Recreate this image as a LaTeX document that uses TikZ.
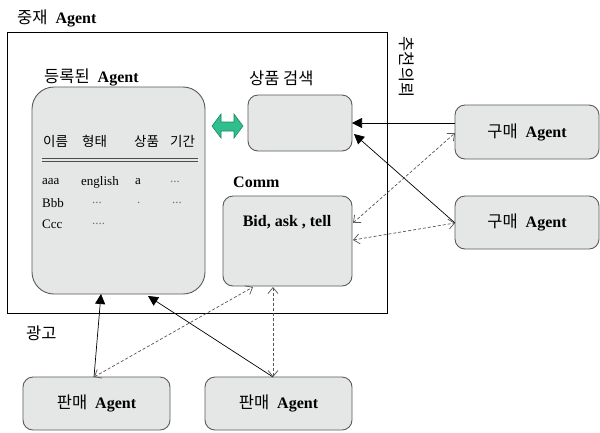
\documentclass[tikz,border=0pt]{standalone}
\usepackage{fontspec}
\setmainfont{Liberation Serif}
\newfontfamily\kr{Noto Sans CJK KR}
\usetikzlibrary{arrows.meta,calc}
\definecolor{boxfill}{HTML}{E4E7E6}
\definecolor{boxline}{HTML}{5A5A5A}
\definecolor{grn}{HTML}{2EBF8C}
\definecolor{grnd}{HTML}{1A8A60}
\definecolor{dsh}{HTML}{555555}
\newcommand\korlbl[1]{{\kr\fontsize{16.5bp}{19bp}\selectfont #1}}
\newcommand\kortbl[1]{{\kr\fontsize{13.5bp}{15bp}\selectfont #1}}
\newcommand\agt{\hspace{8bp}\textbf{Agent}}
\begin{document}
\begin{tikzpicture}[x=1bp,y=-1bp,
  rbox/.style={draw=boxline,fill=boxfill,line width=0.9bp,rounded corners=10bp},
  lbl/.style={anchor=west,inner sep=0pt,font=\fontsize{16bp}{19bp}\selectfont},
  tbl/.style={anchor=west,inner sep=0pt,font=\fontsize{13bp}{15bp}\selectfont},
  dots/.style={tbl,text=black!55},
  solidarrow/.style={draw=black,line width=0.7bp,-{Triangle[length=10bp,width=10bp]}},
  dasharrow/.style={draw=dsh,line width=0.7bp,dash pattern=on 3bp off 2bp,{Straight Barb[length=6bp,width=10bp]}-{Straight Barb[length=6bp,width=10bp]}}
]
\useasboundingbox (0,0) rectangle (600,432);
\fill[white] (0,0) rectangle (600,432);

% outer mediator
\draw[line width=0.8bp] (7,32) rectangle (387,313);
\node[lbl] (tmed) at (17,18) {\korlbl{중재}\agt};

% registered agent
\draw[rbox,rounded corners=22bp] (32,87) rectangle (205,294);
\node[lbl] (treg) at (44,77) {\korlbl{등록된}\agt};
\node[tbl] (h1) at (43,141) {\kortbl{이름}};
\node[tbl] (h2) at (82,141) {\kortbl{형태}};
\node[tbl] (h3) at (134,141) {\kortbl{상품}};
\node[tbl] (h4) at (170,141) {\kortbl{기간}};
\draw[line width=0.8bp,black!70] (42,158.5) -- (198,158.5) (42,161.5) -- (198,161.5);
\node[tbl] (r11) at (42,182) {aaa};
\node[tbl] (r12) at (81,182) {english};
\node[tbl] (r13) at (135,182) {a};
\node[dots] (r14) at (170,182) {...};
\node[tbl] (r21) at (42,203) {Bbb};
\node[dots] (r22) at (92,203) {...};
\node[dots] (r23) at (137,203) {.};
\node[dots] (r24) at (172,203) {...};
\node[tbl] (r31) at (42,224) {Ccc};
\node[dots] (r32) at (92,224) {....};

% green double arrow
\filldraw[fill=grn,draw=grnd,line width=0.6bp] (212,126) -- (221,114) -- (221,122) -- (234,122) -- (234,114) -- (243,126) -- (234,138) -- (234,131) -- (221,131) -- (221,138) -- cycle;

% product search
\node[lbl] (tsearch) at (249,78) {\korlbl{상품 검색}};
\draw[rbox] (248,95) rectangle (352,151);

% recommendation request (vertical)
\node[inner sep=0pt,rotate=-90] (trec) at (407,67) {\korlbl{추천의뢰}};

% comm
\node[lbl] (tcomm) at (233,182) {\textbf{Comm}};
\draw[rbox] (223,196) rectangle (352,286);
\node[inner sep=0pt,font=\fontsize{16bp}{19bp}\selectfont] (bid) at (287,222) {\textbf{Bid, ask , tell}};

% buyers
\node[rbox,minimum width=144bp,minimum height=54bp,font=\fontsize{16bp}{19bp}\selectfont] (buy1) at (527,132) {\korlbl{구매}\agt};
\node[rbox,minimum width=144bp,minimum height=53bp,font=\fontsize{16bp}{19bp}\selectfont] (buy2) at (527,222.5) {\korlbl{구매}\agt};

% sellers
\node[rbox,minimum width=147bp,minimum height=53bp,font=\fontsize{16bp}{19bp}\selectfont] (sell1) at (96.5,403.5) {\korlbl{판매}\agt};
\node[rbox,minimum width=147bp,minimum height=53bp,font=\fontsize{16bp}{19bp}\selectfont] (sell2) at (278.5,403.5) {\korlbl{판매}\agt};

\node[lbl] (tad) at (26,333) {\korlbl{광고}};

% connector end points
\coordinate (b1a) at (455,123);
\coordinate (sa) at (352,123);
\coordinate (b2a) at (455,223);
\coordinate (sb) at (354,134);
\coordinate (bidR1) at (353,223);
\coordinate (b1b) at (455,133);
\coordinate (bidR2) at (353,240);
\coordinate (b2b) at (455,223);
\coordinate (s1t) at (94,377);
\coordinate (regA) at (101,294);
\coordinate (s2t) at (273,377);
\coordinate (regB) at (148,296);
\coordinate (bidB1) at (253,287);
\coordinate (bidB2) at (273,287);

\draw[solidarrow] (b1a) -- (sa);
\draw[solidarrow] (b2a) -- (sb);
\draw[dasharrow] (bidR1) -- (b1b);
\draw[dasharrow] (bidR2) -- (b2b);
\draw[solidarrow] (s1t) -- (regA);
\draw[solidarrow] (s2t) -- (regB);
\draw[dasharrow] (s1t) -- (bidB1);
\draw[dasharrow] (s2t) -- (bidB2);
\end{tikzpicture}
\end{document}
